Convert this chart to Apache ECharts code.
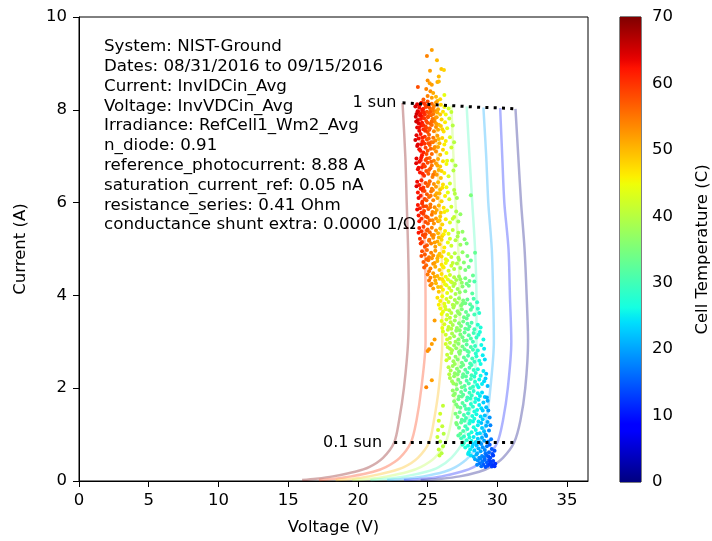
<!DOCTYPE html>
<html><head><meta charset="utf-8">
<script src="https://cdn.jsdelivr.net/npm/echarts@6/dist/echarts.min.js"></script>
<style>html,body{margin:0;padding:0;background:#fff}#c{width:712px;height:541px}</style>
</head><body><div id="c"></div><script>
// ---------- data ----------
const xTickValues = [0,5,10,15,20,25,30,35];
const yTickValues = [0,2,4,6,8,10];
const cbTickValues = [0,10,20,30,40,50,60,70];
const curveTemps = [70,60,50,40,30,20,10,0];
const curveCurrents = [0.02,0.05,0.1,0.2,0.3,0.5,0.83,1.3,2,3,4,5,6,7];
const curveTopCurrents = [8.15,8.13,8.11,8.09,8.07,8.05,8.04,8.02];
const curveV70 = [16.0,17.0,18.2,19.8,20.8,21.8,22.6,22.95,23.3,23.6,23.65,23.6,23.5,23.4,23.2];
const curveV60 = [17.2,18.3,19.5,21.1,22.0,23.0,23.8,24.2,24.55,24.85,24.85,24.8,24.65,24.55,24.35];
const curveV50 = [18.4,19.6,20.8,22.3,23.3,24.3,25.1,25.45,25.8,26.05,26.05,26.0,25.85,25.7,25.5];
const curveV40 = [19.6,20.9,22.1,23.6,24.5,25.5,26.3,26.7,27.05,27.3,27.3,27.2,27.0,26.85,26.7];
const curveV30 = [20.9,22.1,23.4,24.9,25.8,26.7,27.5,27.9,28.3,28.5,28.5,28.4,28.2,28.0,27.8];
const curveV20 = [22.1,23.4,24.7,26.2,27.0,27.9,28.7,29.2,29.5,29.75,29.7,29.6,29.35,29.2,29.0];
const curveV10 = [23.3,24.7,26.0,27.4,28.3,29.2,30.0,30.4,30.75,31.0,30.9,30.8,30.5,30.35,30.2];
const curveV0  = [24.5,26.0,27.3,28.7,29.5,30.4,31.2,31.65,32.0,32.2,32.1,31.95,31.7,31.5,31.3];
const tenthSunIndex = 6;

// scatter points: [voltage, current, cell temperature]
const ptsTop = [[25.3,9.29,52],[24.95,9.16,54],[25.67,9.07,50],[25.98,8.88,49],[26.17,8.86,48],[25.17,8.84,52],[25.8,8.72,50],[25.7,8.6,51],[25.8,8.61,50],[24.3,8.49,58],[25.0,8.63,53],[25.15,8.57,52],[25.3,8.54,52],[24.9,8.45,54],[25.2,8.40,53],[25.4,8.36,51],[25.0,8.30,54],[25.6,8.28,50],[26.2,8.32,44],[25.9,8.23,48],[25.7,8.19,50],[25.3,8.26,52],[24.7,8.22,57],
[24.25,8.12,64],[24.4,8.05,63],[24.55,8.15,62],[24.7,8.02,61],[24.85,8.1,59],[25.0,8.18,58],[25.15,8.04,57],[25.3,8.13,56],[25.45,8.08,54],[25.6,8.16,52],[25.75,8.01,51],[25.95,8.11,48],[26.2,8.06,45],[26.5,8.03,42],
[24.35,7.95,63],[24.5,7.92,62],[24.65,7.98,61],[24.8,7.9,60],[24.95,7.96,58],[25.1,7.93,57],[25.25,7.99,56],[25.4,7.91,55],[25.55,7.97,53],[25.7,7.94,51],[25.9,7.9,49],[26.1,7.96,47],[24.2,7.91,65],[24.6,8.0,62],[25.05,8.07,58],[25.35,7.98,55],[24.75,8.14,60],
[24.12,8.07,65],[24.28,7.97,64],[24.42,8.09,63],[24.58,7.86,62],[24.72,7.94,61],[24.88,8.06,59],[25.02,7.84,58],[25.18,7.95,57],[25.38,8.03,55],[25.52,7.82,53],[26.3,7.9,45],[26.7,7.95,41]];
const ptsUpper = [[24.15,7.85,65],[24.3,7.78,64],[24.45,7.88,63],[24.6,7.72,62],[24.75,7.82,60],[24.9,7.76,59],[25.05,7.86,58],[25.2,7.7,57],[25.35,7.8,55],[25.5,7.74,54],[25.65,7.84,52],[25.8,7.68,50],[26.0,7.79,48],[26.25,7.73,46],[26.55,7.81,42],
[24.25,7.62,64],[24.4,7.55,63],[24.55,7.66,62],[24.7,7.58,61],[24.85,7.64,59],[25.0,7.52,58],[25.15,7.6,57],[25.3,7.67,56],[25.45,7.54,54],[25.6,7.63,53],[25.75,7.57,51],[25.95,7.65,49],[26.15,7.53,47],[26.4,7.6,44],[24.35,7.71,64],[24.9,7.61,59],[25.25,7.88,56],
[24.18,7.75,65],[24.38,7.62,63],[24.52,7.8,62],[24.68,7.67,61],[24.82,7.55,60],[24.98,7.72,58],[25.12,7.57,57],[25.28,7.75,56],[25.62,7.7,52],[26.05,7.58,48],[26.8,7.66,40],
[24.2,7.45,64],[24.35,7.38,63],[24.5,7.48,62],[24.65,7.32,61],[24.8,7.42,60],[24.95,7.36,58],[25.1,7.46,57],[25.25,7.3,56],[25.4,7.4,55],[25.55,7.34,53],[25.7,7.44,52],[25.85,7.28,50],[26.05,7.39,48],[26.3,7.33,46],[26.6,7.41,43],
[24.25,7.22,64],[24.4,7.15,63],[24.55,7.26,62],[24.7,7.08,61],[24.85,7.18,59],[25.0,7.12,58],[25.15,7.24,57],[25.3,7.05,56],[25.45,7.16,54],[25.6,7.1,53],[25.75,7.2,51],[25.9,7.03,50],[26.1,7.14,48],[26.35,7.07,45],[26.7,7.19,42],[24.6,7.02,62],[25.05,7.28,58],
[24.12,7.35,65],[24.3,7.25,64],[24.48,7.12,62],[24.62,7.4,61],[24.78,7.27,60],[24.92,7.05,58],[25.08,7.38,57],[25.22,7.16,56],[25.38,7.3,55],[25.52,7.2,53],[25.8,7.37,50],[26.2,7.25,46],[26.9,7.3,40],
[24.2,6.95,64],[24.4,6.88,63],[24.55,6.98,62],[24.7,6.82,60],[24.85,6.92,59],[25.0,6.86,58],[25.15,6.96,56],[25.3,6.8,55],[25.45,6.9,54],[25.6,6.84,52],[25.75,6.94,51],[25.9,6.78,49],[26.1,6.89,47],[26.35,6.83,45],[26.75,6.91,41],
[24.3,6.72,63],[24.45,6.65,62],[24.6,6.76,61],[24.75,6.58,60],[24.9,6.68,58],[25.05,6.62,57],[25.2,6.74,56],[25.35,6.55,54],[25.5,6.66,53],[25.65,6.6,52],[25.8,6.7,50],[25.95,6.53,49],[26.2,6.64,46],[26.5,6.57,43],[26.85,6.69,40],
[24.18,6.85,64],[24.35,6.75,63],[24.5,6.92,62],[24.65,6.62,61],[24.8,6.78,59],[24.95,6.95,58],[25.1,6.7,57],[25.25,6.88,56],[25.4,6.6,55],[25.7,6.8,51],[26.0,6.68,48],[26.4,6.9,44],[27.0,6.8,39]];
const ptsMid = [[24.25,6.45,63],[24.4,6.38,62],[24.55,6.48,61],[24.7,6.32,60],[24.85,6.42,58],[25.0,6.36,57],[25.15,6.46,56],[25.3,6.3,54],[25.45,6.4,53],[25.6,6.34,52],[25.75,6.44,50],[25.9,6.28,49],[26.1,6.39,47],[26.35,6.33,45],[26.6,6.41,42],[26.9,6.27,40],
[24.3,6.22,62],[24.5,6.15,61],[24.65,6.26,60],[24.8,6.08,59],[24.95,6.18,57],[25.1,6.12,56],[25.25,6.24,55],[25.4,6.05,54],[25.55,6.16,52],[25.7,6.1,51],[25.85,6.2,50],[26.0,6.03,48],[26.25,6.14,46],[26.55,6.07,43],[26.95,6.19,40],[28.1,6.16,35],
[24.2,6.35,64],[24.35,6.1,63],[24.5,6.3,61],[24.62,6.02,60],[24.78,6.25,59],[24.92,6.05,57],[25.08,6.4,56],[25.22,6.15,55],[25.38,6.27,54],[25.65,6.2,51],[26.05,6.32,47],[26.45,6.22,44],[27.1,6.1,38],
[24.3,5.95,62],[24.45,5.88,61],[24.6,5.98,60],[24.75,5.82,59],[24.9,5.92,58],[25.05,5.86,57],[25.2,5.96,55],[25.35,5.8,54],[25.5,5.9,53],[25.65,5.84,51],[25.8,5.94,50],[25.95,5.78,49],[26.15,5.89,47],[26.4,5.83,44],[26.7,5.91,42],[27.05,5.81,39],
[24.35,5.72,62],[24.55,5.65,60],[24.7,5.76,59],[24.85,5.58,58],[25.0,5.68,57],[25.15,5.62,56],[25.3,5.74,55],[25.45,5.55,53],[25.6,5.66,52],[25.75,5.6,51],[25.9,5.7,49],[26.05,5.53,48],[26.3,5.64,46],[26.6,5.57,43],[26.9,5.69,41],[27.2,5.59,38],
[24.25,5.85,63],[24.4,5.6,62],[24.55,5.78,60],[24.7,5.92,59],[24.88,5.7,58],[25.02,5.55,57],[25.18,5.9,55],[25.35,5.62,54],[25.55,5.78,52],[25.85,5.62,49],[26.2,5.8,46],[26.8,5.65,41],[27.35,5.75,37],
[24.4,5.45,61],[24.55,5.38,60],[24.7,5.48,59],[24.85,5.32,58],[25.0,5.42,57],[25.15,5.36,56],[25.3,5.46,54],[25.45,5.3,53],[25.6,5.4,52],[25.75,5.34,50],[25.9,5.44,49],[26.05,5.28,48],[26.25,5.39,46],[26.5,5.33,44],[26.8,5.41,41],[27.15,5.27,39],[27.5,5.37,37],
[24.45,5.22,60],[24.6,5.15,59],[24.8,5.26,58],[24.95,5.08,57],[25.1,5.18,56],[25.25,5.12,54],[25.4,5.24,53],[25.55,5.05,52],[25.7,5.16,51],[25.85,5.1,49],[26.0,5.2,48],[26.2,5.03,46],[26.45,5.14,44],[26.7,5.07,42],[27.0,5.19,40],[27.35,5.09,38],[27.65,5.21,36],
[24.35,5.35,62],[24.5,5.12,60],[24.65,5.3,59],[24.8,5.05,58],[24.95,5.4,57],[25.12,5.2,55],[25.3,5.3,54],[25.5,5.14,52],[25.8,5.25,50],[26.15,5.32,46],[26.6,5.22,43],[27.2,5.35,39],[27.8,5.12,35],
[24.6,4.95,58],[24.8,4.88,57],[24.95,4.98,56],[25.1,4.82,55],[25.25,4.92,54],[25.4,4.86,53],[25.55,4.96,52],[25.7,4.8,50],[25.85,4.9,49],[26.0,4.84,48],[26.15,4.94,47],[26.3,4.78,45],[26.5,4.89,44],[26.7,4.83,42],[26.95,4.91,40],[27.2,4.81,39],[27.5,4.93,37],[27.85,4.85,35],[28.4,4.92,33],
[24.7,4.72,57],[24.9,4.65,56],[25.05,4.76,55],[25.2,4.58,54],[25.4,4.68,53],[25.55,4.62,51],[25.7,4.74,50],[25.85,4.55,49],[26.0,4.66,47],[26.15,4.6,46],[26.3,4.7,45],[26.5,4.53,43],[26.7,4.64,42],[26.9,4.57,40],[27.1,4.69,39],[27.35,4.59,37],[27.6,4.71,36],[27.95,4.61,34],
[24.55,4.85,58],[24.75,4.6,57],[24.92,4.78,56],[25.1,4.52,55],[25.3,4.8,53],[25.5,4.7,52],[25.75,4.85,50],[26.1,4.62,46],[26.4,4.75,44],[26.8,4.7,41],[27.25,4.77,38],[27.7,4.55,35],[28.1,4.75,33],
[25.0,4.45,55],[25.2,4.38,54],[25.4,4.48,52],[25.55,4.32,51],[25.7,4.42,50],[25.85,4.36,49],[26.0,4.46,47],[26.15,4.3,46],[26.3,4.4,45],[26.45,4.34,44],[26.6,4.44,42],[26.75,4.28,41],[26.9,4.39,40],[27.05,4.33,39],[27.25,4.41,38],[27.45,4.27,37],[27.7,4.37,35],[28.0,4.31,34],[28.25,4.43,33],
[25.2,4.22,54],[25.4,4.15,52],[25.6,4.26,50],[25.8,4.08,49],[25.95,4.18,48],[26.1,4.12,46],[26.25,4.24,45],[26.4,4.05,44],[26.55,4.16,43],[26.7,4.1,42],[26.85,4.2,40],[27.0,4.03,39],[27.15,4.14,38],[27.3,4.07,37],[27.5,4.19,36],[27.7,4.09,35],[27.95,4.21,34],[28.2,4.04,32],
[25.1,4.32,55],[25.3,4.25,53],[25.5,4.4,51],[25.75,4.18,49],[26.05,4.35,47],[26.35,4.22,44],[26.65,4.3,42],[26.95,4.25,40],[27.35,4.35,37],[27.8,4.25,34],[28.35,4.3,31]];
const ptsLower = [[25.7,3.95,47],[25.9,3.88,46],[26.05,3.98,45],[26.2,3.82,44],[26.35,3.92,43],[26.5,3.86,42],[26.65,3.96,41],[26.8,3.8,40],[26.95,3.9,39],[27.1,3.84,38],[27.25,3.94,37],[27.4,3.78,36],[27.55,3.89,35],[27.7,3.83,34],[27.85,3.91,33],[28.05,3.81,32],[28.3,3.93,31],[28.55,3.85,29],
[25.9,3.72,45],[26.1,3.65,44],[26.25,3.76,43],[26.4,3.58,42],[26.55,3.68,41],[26.7,3.62,40],[26.85,3.74,39],[27.0,3.55,38],[27.15,3.66,37],[27.3,3.6,36],[27.45,3.7,35],[27.6,3.53,34],[27.75,3.64,33],[27.9,3.57,33],[28.1,3.69,32],[28.35,3.59,30],[28.6,3.71,29],[25.5,3.46,52],
[25.8,3.8,46],[26.0,3.6,45],[26.3,3.7,43],[26.6,3.52,41],[26.9,3.78,39],[27.2,3.62,37],[27.5,3.82,35],[27.8,3.5,33],[28.2,3.75,31],[28.7,3.62,28],
[26.0,3.45,44],[26.2,3.38,43],[26.35,3.48,42],[26.5,3.32,41],[26.65,3.42,40],[26.8,3.36,39],[26.95,3.46,38],[27.1,3.3,37],[27.25,3.4,36],[27.4,3.34,35],[27.55,3.44,34],[27.7,3.28,33],[27.85,3.39,32],[28.0,3.33,32],[28.15,3.41,31],[28.35,3.27,30],[28.6,3.37,28],[28.8,3.31,27],
[26.1,3.22,43],[26.3,3.15,42],[26.45,3.26,41],[26.6,3.08,40],[26.75,3.18,39],[26.9,3.12,38],[27.05,3.24,37],[27.2,3.05,36],[27.35,3.16,35],[27.5,3.1,34],[27.65,3.2,33],[27.8,3.03,33],[27.95,3.14,32],[28.1,3.07,31],[28.3,3.19,30],[28.5,3.09,29],[28.75,3.21,27],[25.5,3.05,52],[25.3,2.95,52],
[26.05,3.3,44],[26.4,3.05,42],[26.7,3.28,40],[27.0,3.0,38],[27.3,3.25,36],[27.6,3.02,34],[27.9,3.27,32],[28.25,3.0,30],[28.65,3.15,28],[29.0,3.05,26],
[26.3,2.95,42],[26.45,2.88,41],[26.6,2.98,40],[26.75,2.82,39],[26.9,2.92,38],[27.05,2.86,37],[27.2,2.96,36],[27.35,2.8,35],[27.5,2.9,34],[27.65,2.84,33],[27.8,2.94,32],[27.95,2.78,32],[28.1,2.89,31],[28.25,2.83,30],[28.4,2.91,29],[28.6,2.81,28],[28.85,2.93,26],[29.05,2.85,25],
[26.4,2.72,41],[26.55,2.65,40],[26.7,2.76,39],[26.85,2.58,38],[27.0,2.68,37],[27.15,2.62,36],[27.3,2.74,35],[27.45,2.55,34],[27.6,2.66,33],[27.75,2.6,32],[27.9,2.7,31],[28.05,2.53,31],[28.2,2.64,30],[28.35,2.57,29],[28.5,2.69,28],[28.7,2.59,27],[28.95,2.71,25],[25.1,2.84,53],[25.0,2.8,53],
[26.35,2.6,42],[26.6,2.85,40],[26.95,2.52,38],[27.25,2.78,36],[27.55,2.5,34],[27.85,2.8,32],[28.15,2.5,30],[28.45,2.75,28],[28.8,2.52,26],[29.1,2.62,24],
[26.5,2.45,40],[26.65,2.38,39],[26.8,2.48,38],[26.95,2.32,37],[27.1,2.42,36],[27.25,2.36,35],[27.4,2.46,34],[27.55,2.3,33],[27.7,2.4,32],[27.85,2.34,31],[28.0,2.44,31],[28.15,2.28,30],[28.3,2.39,29],[28.45,2.33,28],[28.6,2.41,27],[28.8,2.27,26],[29.0,2.37,25],[29.2,2.31,23],
[26.6,2.22,39],[26.75,2.15,38],[26.9,2.26,37],[27.05,2.08,36],[27.2,2.18,35],[27.35,2.12,34],[27.5,2.24,33],[27.65,2.05,32],[27.8,2.16,31],[27.95,2.1,31],[28.1,2.2,30],[28.25,2.03,29],[28.4,2.14,28],[28.55,2.07,27],[28.7,2.19,26],[28.9,2.09,25],[29.15,2.21,23],[25.3,2.17,52],[24.9,2.02,54],
[26.55,2.3,40],[26.85,2.1,38],[27.15,2.3,36],[27.45,2.02,34],[27.75,2.25,32],[28.05,2.0,30],[28.35,2.25,28],[28.65,2.02,26],[29.05,2.15,24],[29.3,2.05,22]];
const ptsBottom = [[26.8,1.95,37],[26.95,1.88,36],[27.1,1.98,35],[27.25,1.82,34],[27.4,1.92,33],[27.55,1.86,32],[27.7,1.96,31],[27.85,1.8,30],[28.0,1.9,30],[28.15,1.84,29],[28.3,1.94,28],[28.45,1.78,27],[28.6,1.89,26],[28.75,1.83,25],[28.9,1.91,24],[29.1,1.81,23],[29.3,1.73,21],
[26.9,1.72,36],[27.05,1.65,35],[27.2,1.76,34],[27.35,1.58,33],[27.5,1.68,32],[27.65,1.62,31],[27.8,1.74,30],[27.95,1.55,29],[28.1,1.66,28],[28.25,1.6,28],[28.4,1.7,27],[28.55,1.53,26],[28.7,1.64,25],[28.85,1.57,24],[29.0,1.69,23],[29.2,1.59,22],[29.35,1.52,20],[26.1,1.62,41],[25.9,1.45,42],
[26.85,1.85,37],[27.15,1.6,35],[27.45,1.82,33],[27.75,1.55,31],[28.05,1.78,29],[28.35,1.5,27],[28.65,1.75,25],[28.95,1.52,23],[29.25,1.8,21],
[27.0,1.45,35],[27.15,1.38,34],[27.3,1.48,33],[27.45,1.32,32],[27.6,1.42,31],[27.75,1.36,30],[27.9,1.46,29],[28.05,1.3,28],[28.2,1.4,27],[28.35,1.34,27],[28.5,1.44,26],[28.65,1.28,25],[28.8,1.39,24],[28.95,1.33,23],[29.1,1.41,22],[29.3,1.27,21],[29.45,1.37,19],
[27.1,1.22,34],[27.25,1.15,33],[27.4,1.26,32],[27.55,1.08,31],[27.7,1.18,30],[27.85,1.12,29],[28.0,1.24,28],[28.15,1.05,27],[28.3,1.16,27],[28.45,1.1,26],[28.6,1.2,25],[28.75,1.03,24],[28.9,1.14,23],[29.05,1.07,22],[29.2,1.19,21],[29.4,1.09,19],[25.8,1.3,42],[26.05,1.18,41],[25.75,1.1,42],[26.15,1.02,40],
[27.05,1.25,35],[27.35,1.02,33],[27.65,1.3,31],[27.95,1.0,28],[28.25,1.28,26],[28.55,1.02,24],[28.85,1.25,22],[29.15,1.0,20],[29.5,1.2,18],
[27.2,0.98,32],[27.4,0.92,30],[27.6,0.96,29],[27.8,0.88,28],[28.0,0.94,27],[28.15,0.86,26],[28.3,0.95,25],[28.45,0.84,24],[28.6,0.91,23],[28.75,0.83,22],[28.9,0.93,21],[29.05,0.87,20],[29.2,0.97,19],[29.35,0.85,18],[29.55,0.9,17],
[27.5,0.78,28],[27.7,0.72,27],[27.9,0.76,26],[28.05,0.68,25],[28.2,0.74,24],[28.35,0.66,23],[28.5,0.77,22],[28.65,0.7,21],[28.8,0.64,20],[28.95,0.73,19],[29.1,0.67,18],[29.25,0.75,17],[29.4,0.62,16],[29.6,0.69,15],[29.8,0.65,14],
[27.6,0.82,28],[27.95,0.62,25],[28.25,0.8,23],[28.55,0.6,21],[28.85,0.8,19],[29.15,0.6,17],[29.45,0.78,15],[29.65,0.58,14],
[27.9,0.58,25],[28.1,0.55,24],[28.3,0.52,22],[28.5,0.57,21],[28.7,0.5,19],[28.9,0.54,18],[29.05,0.51,17],[29.2,0.56,16],[29.35,0.53,15],[29.5,0.5,14],[29.7,0.55,13],
[25.7,0.95,41],[25.9,0.85,40],[26.1,0.75,40],[25.8,0.68,41],[26.0,0.6,40],[25.85,0.55,41],
[28.4,0.47,20],[28.6,0.44,19],[28.8,0.48,18],[28.95,0.42,17],[29.1,0.46,16],[29.25,0.4,15],[29.4,0.45,14],[29.55,0.38,14],[29.7,0.43,13],[29.85,0.37,12],[29.0,0.35,15],[29.3,0.33,14],[29.6,0.31,13],[29.45,0.36,13],[28.75,0.38,17],[29.15,0.3,14],[29.8,0.32,12],
[28.55,0.35,18],[28.85,0.32,16],[29.5,0.42,13],[29.7,0.34,12]];

const infoLines = [
 'System: NIST-Ground',
 'Dates: 08/31/2016 to 09/15/2016',
 'Current: InvIDCin_Avg',
 'Voltage: InvVDCin_Avg',
 'Irradiance: RefCell1_Wm2_Avg',
 'n_diode: 0.91',
 'reference_photocurrent: 8.88 A',
 'saturation_current_ref: 0.05 nA',
 'resistance_series: 0.41 Ohm',
 'conductance shunt extra: 0.0000 1/\u03a9'
];

// ---------- styling helpers ----------
const FONT = 'DejaVu Sans';
function interp(t, pts){
  for (let i=1;i<pts.length;i++){
    if (t<=pts[i][0]){const a=pts[i-1],b=pts[i];return a[1]+(b[1]-a[1])*(t-a[0])/(b[0]-a[0]);}
  }
  return pts[pts.length-1][1];
}
function jet(t){
  const r=interp(t,[[0,0],[0.35,0],[0.66,1],[0.89,1],[1,0.5]]);
  const g=interp(t,[[0,0],[0.125,0],[0.375,1],[0.64,1],[0.91,0],[1,0]]);
  const b=interp(t,[[0,0.5],[0.11,1],[0.34,1],[0.65,0],[1,0]]);
  return [Math.round(r*255),Math.round(g*255),Math.round(b*255)];
}
const jetStops=[]; for(let i=0;i<=64;i++){const c=jet(i/64);jetStops.push('rgb('+c.join(',')+')');}
const gradStops=[]; for(let i=0;i<=64;i++){const c=jet(i/64);gradStops.push({offset:1-i/64,color:'rgb('+c.join(',')+')'});}

const curveVs=[curveV70,curveV60,curveV50,curveV40,curveV30,curveV20,curveV10,curveV0];
const series=[];
curveVs.forEach((vs,k)=>{
  const cur=curveCurrents.concat([curveTopCurrents[k]]);
  const c=jet(curveTemps[k]/70);
  series.push({type:'line',xAxisIndex:0,yAxisIndex:0,data:vs.map((v,i)=>[v,cur[i]]),showSymbol:false,
    smooth:0.3,lineStyle:{color:'rgba('+c.join(',')+',0.32)',width:2.5},silent:true,z:2});
});
const allPts=ptsTop.concat(ptsUpper,ptsMid,ptsLower,ptsBottom);
series.push({type:'scatter',xAxisIndex:0,yAxisIndex:0,data:allPts,symbolSize:4,z:3,itemStyle:{opacity:1}});
const oneSun=curveVs.map((vs,k)=>[vs[vs.length-1],curveTopCurrents[k]]);
const tenthSun=curveVs.map((vs,k)=>[vs[tenthSunIndex],curveCurrents[tenthSunIndex]]);
function dotted(data,text,dist){
  return {type:'line',xAxisIndex:0,yAxisIndex:0,z:5,symbol:'circle',symbolSize:0.1,showSymbol:true,
    itemStyle:{color:'rgba(0,0,0,0)'},
    lineStyle:{color:'#000',width:3,type:[3,5.3]},
    data:data.map((d,i)=>i===0?{value:d,label:{show:true,formatter:text,position:'left',distance:dist,color:'#000',fontSize:16,fontFamily:FONT}}:{value:d})};
}
series.push(dotted(oneSun,'1 sun',6));
series.push(dotted(tenthSun,'0.1 sun',12));
series.push({type:'bar',xAxisIndex:1,yAxisIndex:1,data:[70],barWidth:'100%',silent:true,
  itemStyle:{color:{type:'linear',x:0,y:0,x2:0,y2:1,colorStops:gradStops}}});

const axisCommon={axisLine:{lineStyle:{color:'#000',width:1}},axisTick:{lineStyle:{color:'#000'},length:5},
  splitLine:{show:false},axisLabel:{color:'#000',fontSize:16.5,fontFamily:FONT}};
const option={
  animation:false,
  textStyle:{fontFamily:FONT},
  grid:[{left:79,top:17,width:509,height:465,show:true,borderColor:'#000',borderWidth:1,backgroundColor:'transparent'},
        {left:620,top:17,width:23,height:465,show:true,borderColor:'#000',borderWidth:1}],
  xAxis:[Object.assign({},axisCommon,{type:'value',gridIndex:0,min:0,max:36.5,interval:5,
      axisTick:{lineStyle:{color:'#000'},length:6,customValues:xTickValues},
      axisLabel:Object.assign({},axisCommon.axisLabel,{customValues:xTickValues,margin:11}),
      name:'Voltage (V)',nameLocation:'middle',nameGap:38,nameTextStyle:{color:'#000',fontSize:16.5,fontFamily:FONT}}),
    {type:'category',gridIndex:1,data:['cb'],show:false}],
  yAxis:[Object.assign({},axisCommon,{type:'value',gridIndex:0,min:0,max:10,interval:2,
      axisTick:{lineStyle:{color:'#000'},length:6,customValues:yTickValues},
      axisLabel:Object.assign({},axisCommon.axisLabel,{customValues:yTickValues,margin:12}),
      name:'Current (A)',nameLocation:'middle',nameGap:50,nameTextStyle:{color:'#000',fontSize:16.5,fontFamily:FONT}}),
    Object.assign({},axisCommon,{type:'value',gridIndex:1,min:0,max:70,interval:10,position:'right',
      axisTick:{lineStyle:{color:'#000'},length:6,customValues:cbTickValues},
      axisLabel:Object.assign({},axisCommon.axisLabel,{customValues:cbTickValues,margin:11}),
      name:'Cell Temperature (C)',nameLocation:'middle',nameRotate:90,nameGap:53,nameTextStyle:{color:'#000',fontSize:16.5,fontFamily:FONT}})],
  visualMap:{type:'continuous',show:false,min:0,max:70,dimension:2,seriesIndex:8,inRange:{color:jetStops}},
  graphic:[{type:'text',left:104,top:37,style:{text:infoLines.join('\n'),font:'16.7px "DejaVu Sans"',fill:'#000',lineHeight:19.8}}],
  series:series
};
echarts.init(document.getElementById('c'),null,{renderer:'canvas'}).setOption(option);
</script></body></html>
